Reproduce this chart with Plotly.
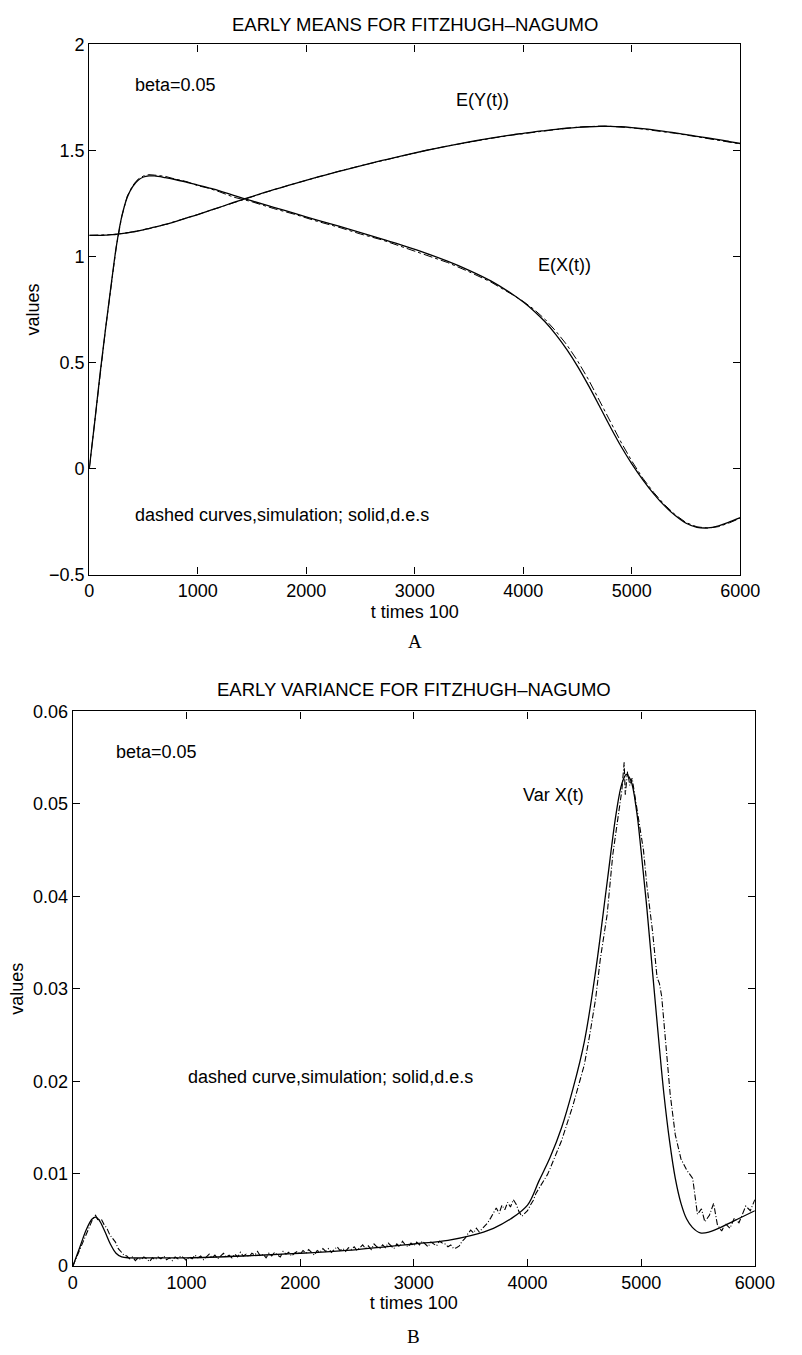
import plotly.graph_objects as go

# ---------------- Panel A data: early means ----------------
tA = [0, 50, 100, 150, 200, 250, 300, 350, 400, 450, 500, 550, 600, 700, 800, 900, 1000,
      1100, 1200, 1330, 1500, 1700, 1900, 2100, 2300, 2500, 2700, 2900, 3100, 3300, 3500,
      3700, 3900, 4000, 4100, 4200, 4300, 4400, 4500, 4600, 4700, 4800, 4900, 5000, 5100,
      5200, 5300, 5400, 5500, 5600, 5700, 5800, 5900, 6000]
ex_des = [0.0, 0.22, 0.45, 0.66, 0.86, 1.05, 1.19, 1.28, 1.33, 1.36, 1.375, 1.38, 1.38, 1.372,
          1.362, 1.35, 1.337, 1.324, 1.31, 1.288, 1.262, 1.232, 1.202, 1.172, 1.143, 1.113,
          1.082, 1.05, 1.016, 0.978, 0.935, 0.885, 0.822, 0.785, 0.742, 0.692, 0.632, 0.562,
          0.482, 0.392, 0.296, 0.198, 0.105, 0.022, -0.052, -0.118, -0.175, -0.222, -0.258,
          -0.277, -0.28, -0.27, -0.252, -0.232]
ey_des = [1.1, 1.1, 1.1, 1.101, 1.103, 1.105, 1.108, 1.112, 1.116, 1.121, 1.126, 1.132, 1.138,
          1.151, 1.166, 1.182, 1.198, 1.215, 1.232, 1.255, 1.283, 1.315, 1.345, 1.374, 1.402,
          1.428, 1.453, 1.477, 1.5, 1.521, 1.54, 1.558, 1.574, 1.581, 1.588, 1.594, 1.6, 1.605,
          1.609, 1.612, 1.614, 1.614, 1.612, 1.608, 1.603, 1.597, 1.59, 1.583, 1.575, 1.567,
          1.559, 1.551, 1.542, 1.533]
ex_sim = [0.0, 0.21, 0.44, 0.66, 0.86, 1.05, 1.19, 1.285, 1.335, 1.365, 1.38, 1.386, 1.384,
          1.378, 1.364, 1.353, 1.334, 1.322, 1.305, 1.28, 1.258, 1.226, 1.198, 1.166, 1.138,
          1.106, 1.078, 1.043, 1.01, 0.972, 0.928, 0.88, 0.82, 0.788, 0.75, 0.704, 0.648,
          0.584, 0.508, 0.42, 0.322, 0.222, 0.125, 0.035, -0.045, -0.112, -0.17, -0.218,
          -0.255, -0.275, -0.281, -0.274, -0.256, -0.234]
ey_sim = [1.1, 1.1, 1.1, 1.101, 1.103, 1.105, 1.108, 1.112, 1.116, 1.121, 1.126, 1.132, 1.138,
          1.151, 1.166, 1.182, 1.198, 1.215, 1.232, 1.255, 1.283, 1.315, 1.345, 1.374, 1.402,
          1.428, 1.453, 1.477, 1.5, 1.521, 1.54, 1.557, 1.573, 1.58, 1.587, 1.593, 1.599, 1.605,
          1.61, 1.614, 1.615, 1.614, 1.611, 1.607, 1.601, 1.595, 1.588, 1.581, 1.573, 1.565,
          1.557, 1.549, 1.54, 1.531]

# ---------------- Panel B data: early variance ----------------
tB_des = [0, 60, 120, 170, 200, 230, 280, 330, 380, 430, 500, 700, 1000, 1500, 2000, 2500,
          3000, 3300, 3500, 3700, 3850, 4000, 4100, 4200, 4300, 4400, 4500, 4600, 4700, 4780,
          4830, 4870, 4910, 4960, 5000, 5050, 5100, 5150, 5200, 5250, 5300, 5350, 5400, 5450,
          5520, 5600, 5700, 5800, 5900, 6000]
var_des = [0.0, 0.0020, 0.0040, 0.0051, 0.0053, 0.0050, 0.0038, 0.0024, 0.0014, 0.0010,
           0.0009, 0.0009, 0.0009, 0.0011, 0.0014, 0.0018, 0.0024, 0.0028, 0.0033, 0.0041,
           0.0051, 0.0066, 0.0092, 0.0118, 0.0150, 0.0192, 0.0243, 0.0320, 0.0415, 0.0490,
           0.0522, 0.0532, 0.0525, 0.0492, 0.0448, 0.0387, 0.0318, 0.0250, 0.0186, 0.0135,
           0.0095, 0.0068, 0.0051, 0.0042, 0.0036, 0.0037, 0.0042, 0.0048, 0.0054, 0.0060]

tB_early = [0, 25, 50, 75, 100, 125, 150, 175, 200, 225, 250, 275, 300, 325, 350, 375, 400, 425, 450]
var_early = [0.0, 0.0007, 0.0014, 0.0021, 0.0028, 0.0036, 0.0044, 0.0051, 0.0055, 0.0049,
             0.0051, 0.0045, 0.0041, 0.0034, 0.0030, 0.0026, 0.0019, 0.0015, 0.0012]
# simulation, t = 475, 500, ..., 3950 (step 25)
var_mid = [0.0011, 0.0008, 0.0010, 0.0006, 0.0009, 0.0007, 0.0010, 0.0008, 0.0005, 0.0009,
           0.0007, 0.0010, 0.0008, 0.0011, 0.0007, 0.0009, 0.0006, 0.0010, 0.0008, 0.0011,
           0.0009, 0.0006, 0.0010, 0.0008, 0.0012, 0.0009, 0.0011, 0.0007, 0.0010, 0.0013,
           0.0009, 0.0012, 0.0008, 0.0011, 0.0014, 0.0010, 0.0012, 0.0009, 0.0013, 0.0010,
           0.0015, 0.0011, 0.0013, 0.0010, 0.0014, 0.0012, 0.0016, 0.0011, 0.0013, 0.0009,
           0.0014, 0.0011, 0.0015, 0.0012, 0.0010, 0.0016, 0.0013, 0.0015, 0.0011, 0.0014,
           0.0016, 0.0013, 0.0017, 0.0014, 0.0018, 0.0015, 0.0012, 0.0017, 0.0015, 0.0019,
           0.0016, 0.0019, 0.0015, 0.0018, 0.0021, 0.0017, 0.0019, 0.0016, 0.0020, 0.0018,
           0.0021, 0.0017, 0.0020, 0.0023, 0.0019, 0.0022, 0.0018, 0.0024, 0.0021, 0.0019,
           0.0023, 0.0020, 0.0025, 0.0022, 0.0019, 0.0024, 0.0021, 0.0027, 0.0023, 0.0021,
           0.0025, 0.0022, 0.0026, 0.0023, 0.0027, 0.0024, 0.0021, 0.0026, 0.0024, 0.0022,
           0.0027, 0.0025, 0.0024, 0.0021, 0.0023, 0.0019, 0.0020, 0.0022, 0.0027, 0.0030,
           0.0035, 0.0039, 0.0036, 0.0041, 0.0037, 0.0040, 0.0044, 0.0047, 0.0052, 0.0058,
           0.0063, 0.0057, 0.0066, 0.0061, 0.0069, 0.0064, 0.0072, 0.0067, 0.0059, 0.0054]
tB_late = [4000, 4025, 4050, 4075, 4100, 4125, 4150, 4175, 4200, 4250, 4300, 4350, 4400, 4450,
           4500, 4550, 4600, 4640, 4700, 4750, 4800, 4830, 4850, 4860, 4880, 4900, 4920, 4950,
           4980, 5000, 5020, 5050, 5100, 5140, 5160, 5180, 5200, 5255, 5300, 5350, 5400, 5453,
           5495, 5530, 5560, 5600, 5637, 5670, 5708, 5740, 5780, 5820, 5860, 5900, 5920, 5960, 6000]
var_late = [0.0060, 0.0066, 0.0071, 0.0079, 0.0084, 0.0090, 0.0094, 0.0099, 0.0106, 0.0120,
            0.0136, 0.0155, 0.0174, 0.0196, 0.0218, 0.0252, 0.0290, 0.0332, 0.0380, 0.0445,
            0.0490, 0.0515, 0.0545, 0.0510, 0.0535, 0.0520, 0.0528, 0.0505, 0.0482, 0.0462,
            0.0450, 0.0412, 0.0362, 0.0312, 0.0306, 0.0292, 0.0262, 0.0186, 0.0142, 0.0116,
            0.0104, 0.0095, 0.0056, 0.0062, 0.0048, 0.0055, 0.0068, 0.0045, 0.0038, 0.0046,
            0.0041, 0.0052, 0.0047, 0.0058, 0.0065, 0.0060, 0.0072]

tB_sim = tB_early + [475 + 25 * i for i in range(len(var_mid))] + tB_late
var_sim = var_early + var_mid + var_late

# ---------------- figure ----------------
W, H = 802, 1355
BLACK = "#000000"
FONT = "Liberation Sans, Arial, Helvetica, sans-serif"
SERIF = "Liberation Serif, Times New Roman, serif"
FS = 18

fig = go.Figure()
dashd = dict(color=BLACK, width=1.0, dash="dashdot")
solid_s = dict(color=BLACK, width=1.3, shape="spline")

fig.add_trace(go.Scatter(x=tA, y=ex_sim, mode="lines", line=dashd, xaxis="x", yaxis="y"))
fig.add_trace(go.Scatter(x=tA, y=ey_sim, mode="lines", line=dashd, xaxis="x", yaxis="y"))
fig.add_trace(go.Scatter(x=tA, y=ex_des, mode="lines", line=solid_s, xaxis="x", yaxis="y"))
fig.add_trace(go.Scatter(x=tA, y=ey_des, mode="lines", line=solid_s, xaxis="x", yaxis="y"))
fig.add_trace(go.Scatter(x=tB_sim, y=var_sim, mode="lines",
                         line=dict(color=BLACK, width=1.1, dash="6px,2px,1px,2px"),
                         xaxis="x2", yaxis="y2"))
fig.add_trace(go.Scatter(x=tB_des, y=var_des, mode="lines", line=solid_s, xaxis="x2", yaxis="y2"))

def px_x(p):
    return p / W

def px_y(p):
    return 1 - p / H

axis_common = dict(showgrid=False, zeroline=False, showline=True, linecolor=BLACK, linewidth=1.3,
                   mirror="ticks", ticks="inside", ticklen=7, tickcolor=BLACK, tickwidth=1,
                   tickfont=dict(family=FONT, size=FS, color=BLACK))
ytitle = dict(text="values", font=dict(family=FONT, size=FS, color=BLACK), standoff=4)

fig.update_layout(
    xaxis=dict(domain=[px_x(87), px_x(759)], range=[0, 6000], tickvals=[0, 1000, 2000, 3000, 4000, 5000, 6000],
               anchor="y", title=dict(text="t times 100", font=dict(family=FONT, size=FS, color=BLACK), standoff=5),
               **axis_common),
    yaxis=dict(domain=[px_y(573), px_y(35)], range=[-0.5, 2], tickvals=[-0.5, 0, 0.5, 1, 1.5, 2],
               ticktext=["\u22120.5", "0", "0.5", "1", "1.5", "2"], anchor="x", title=ytitle, **axis_common),
    xaxis2=dict(domain=[px_x(70), px_x(774)], range=[0, 6000], tickvals=[0, 1000, 2000, 3000, 4000, 5000, 6000],
                anchor="y2", title=dict(text="t times 100", font=dict(family=FONT, size=FS, color=BLACK), standoff=0),
                **axis_common),
    yaxis2=dict(domain=[px_y(1275), px_y(712)], range=[0, 0.06],
                tickvals=[0, 0.01, 0.02, 0.03, 0.04, 0.05, 0.06],
                ticktext=["0", "0.01", "0.02", "0.03", "0.04", "0.05", "0.06"], anchor="x2",
                title=ytitle, **axis_common),
    width=W, height=H, margin=dict(l=0, r=0, t=0, b=0),
    paper_bgcolor="white", plot_bgcolor="white", showlegend=False,
    font=dict(family=FONT, color=BLACK),
)

def txt(x, y, s, xref, yref, size=FS, family=FONT, xanchor="left"):
    fig.add_annotation(x=x, y=y, xref=xref, yref=yref, text=s, showarrow=False,
                       xanchor=xanchor, yanchor="middle",
                       font=dict(family=family, size=size, color=BLACK))

txt(px_x(423), px_y(15), "EARLY MEANS FOR FITZHUGH\u2013NAGUMO", "paper", "paper", size=18.5, xanchor="center")
txt(px_x(423), px_y(641), "A", "paper", "paper", size=19, family=SERIF, xanchor="center")
txt(px_x(422), px_y(690), "EARLY VARIANCE FOR FITZHUGH\u2013NAGUMO", "paper", "paper", size=18.5, xanchor="center")
txt(px_x(422), px_y(1346), "B", "paper", "paper", size=19, family=SERIF, xanchor="center")

txt(400, 1.81, "beta=0.05", "x", "y")
txt(3620, 1.74, "E(Y(t))", "x", "y", xanchor="center")
txt(4380, 0.96, "E(X(t))", "x", "y", xanchor="center")
txt(400, -0.22, "dashed curves,simulation; solid,d.e.s", "x", "y")
txt(360, 0.0556, "beta=0.05", "x2", "y2")
txt(4230, 0.0510, "Var X(t)", "x2", "y2", xanchor="center")
txt(1000, 0.0205, "dashed curve,simulation; solid,d.e.s", "x2", "y2")

fig.write_html("out.html")
